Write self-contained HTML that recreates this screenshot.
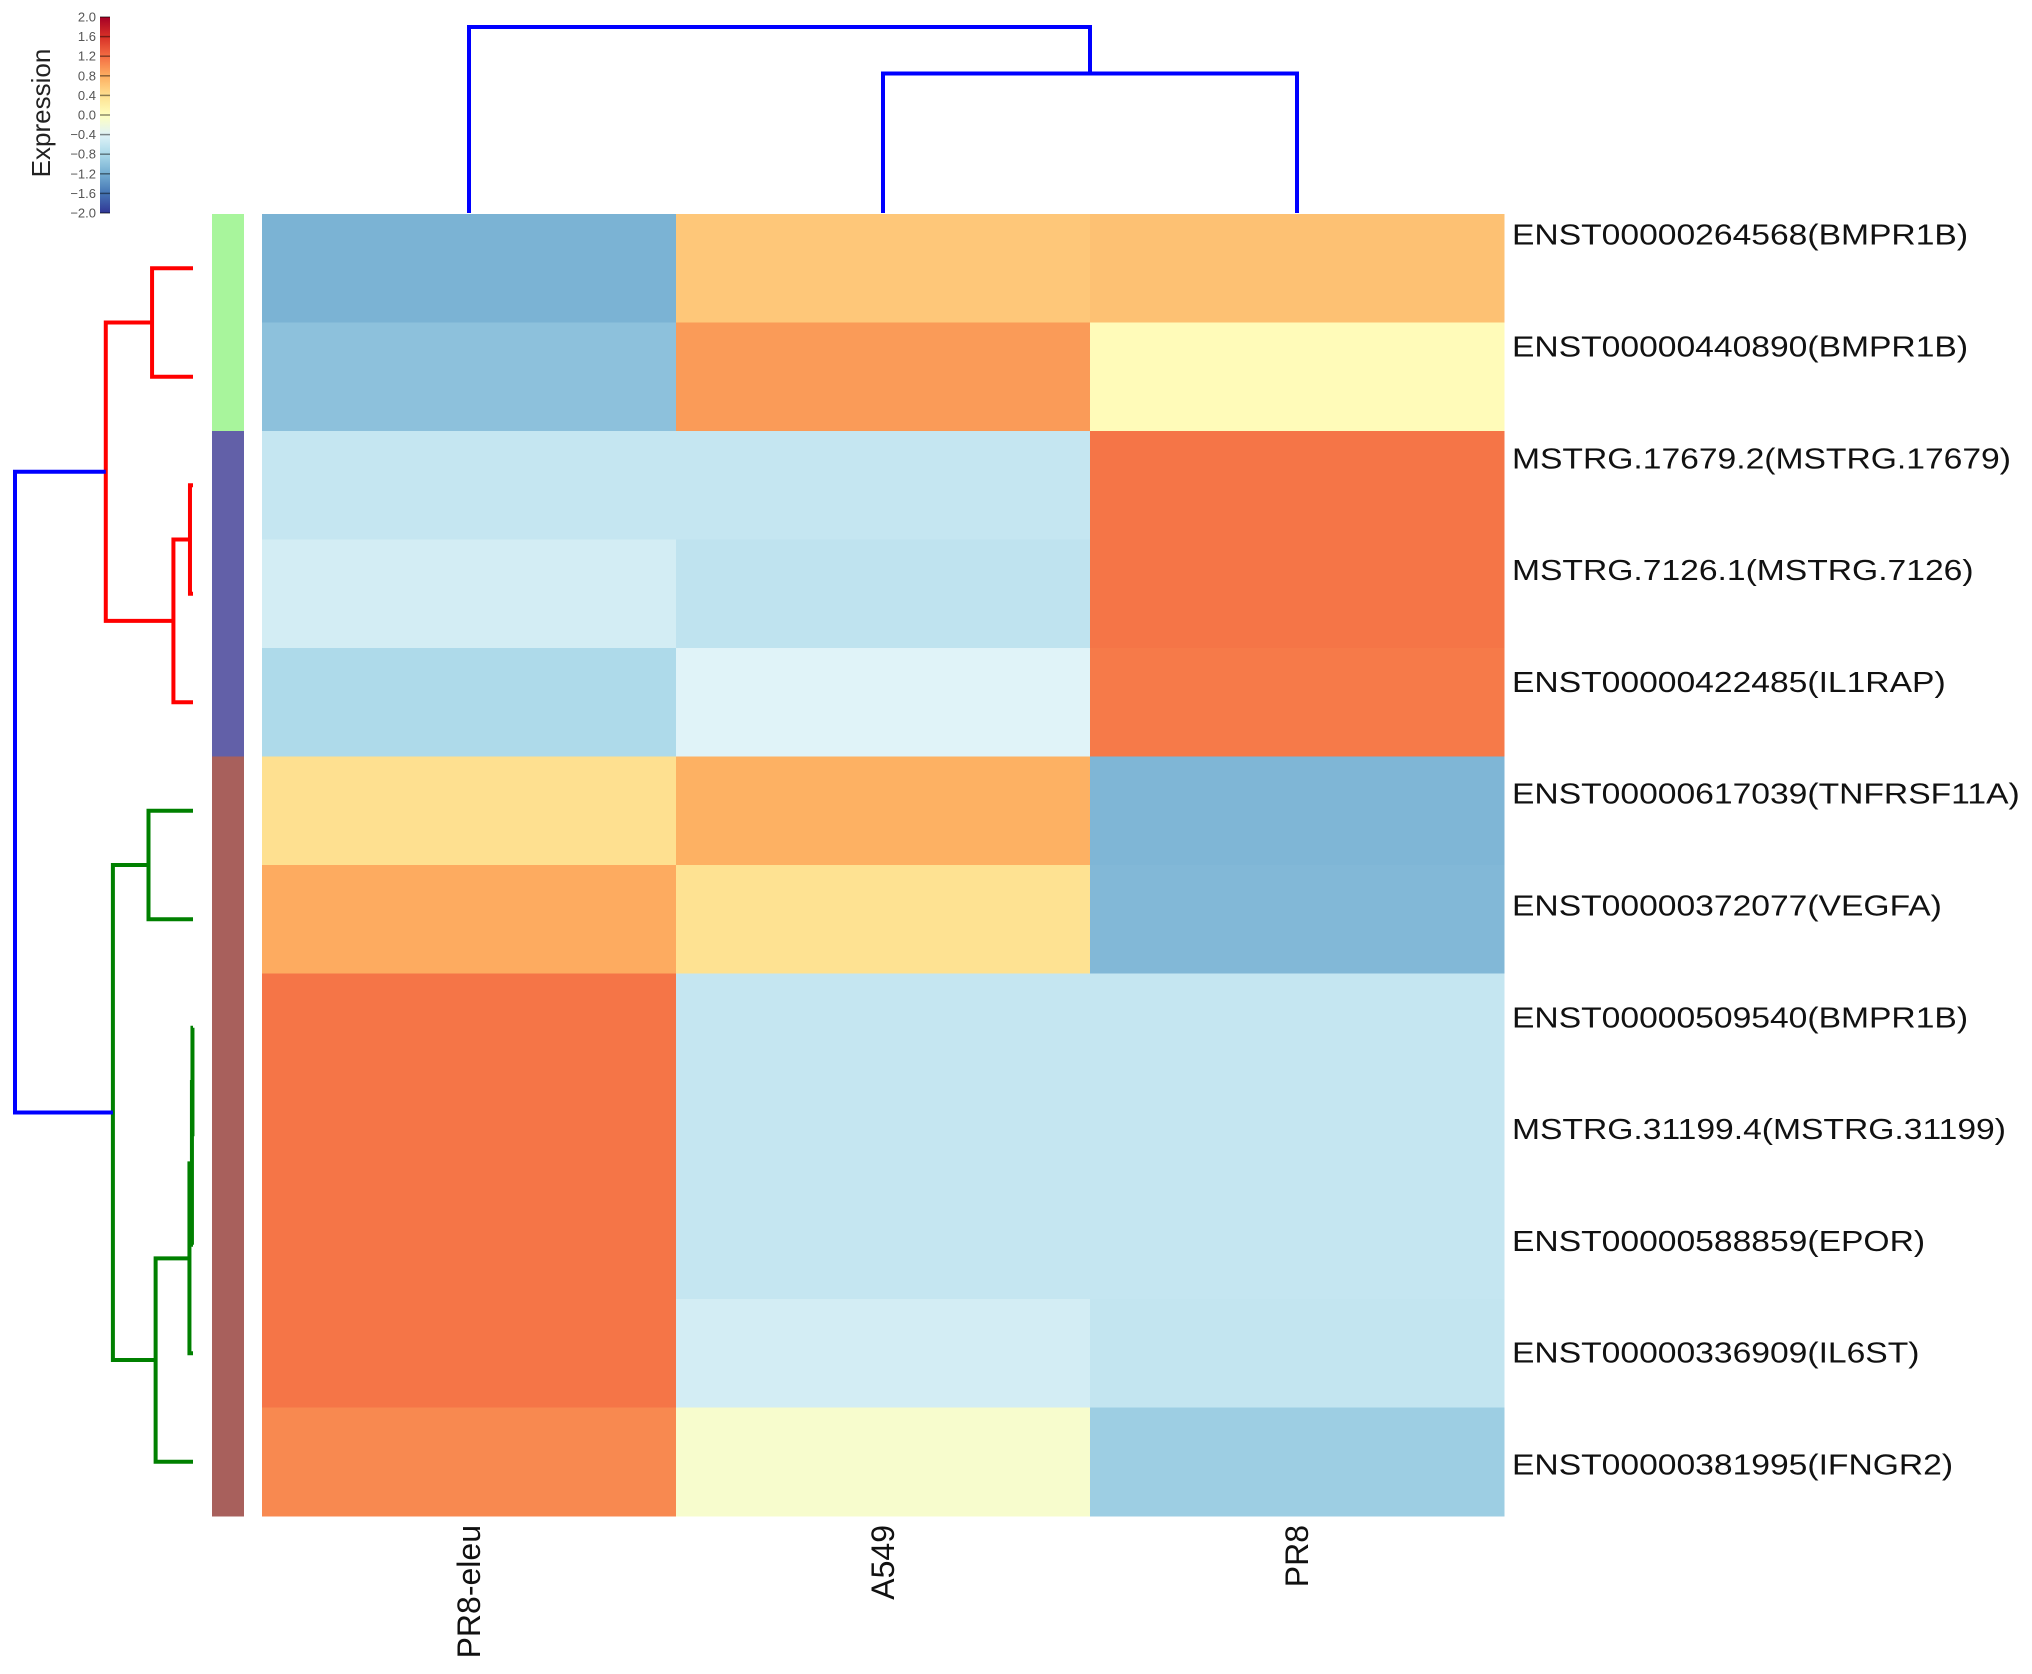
<!DOCTYPE html>
<html><head><meta charset="utf-8"><style>
html,body{margin:0;padding:0;background:#fff;}
svg{display:block;font-family:"Liberation Sans",Arial,sans-serif;}
</style></head><body>
<svg id="chart" width="2032" height="1674" viewBox="0 0 2032 1674" xmlns="http://www.w3.org/2000/svg">
<g id="colorbar"></g>
<g id="coldendro"></g>
<g id="rowdendro"></g>
<g id="sidebar"></g>
<g id="cells"></g>
<g id="rowlabels"></g>
<g id="collabels"></g>
</svg>
<script>
const columns = ["PR8-eleu","A549","PR8"];
const rows = ["ENST00000264568(BMPR1B)","ENST00000440890(BMPR1B)","MSTRG.17679.2(MSTRG.17679)","MSTRG.7126.1(MSTRG.7126)","ENST00000422485(IL1RAP)","ENST00000617039(TNFRSF11A)","ENST00000372077(VEGFA)","ENST00000509540(BMPR1B)","MSTRG.31199.4(MSTRG.31199)","ENST00000588859(EPOR)","ENST00000336909(IL6ST)","ENST00000381995(IFNGR2)"];
const colPR8eleu = [-1.15,-1.02,-0.6,-0.5,-0.78,0.4,0.82,1.15,1.15,1.15,1.15,1.03];
const colA549 = [0.6,0.92,-0.6,-0.65,-0.4,0.78,0.38,-0.6,-0.6,-0.6,-0.5,-0.1];
const colPR8 = [0.65,0.05,1.15,1.15,1.12,-1.12,-1.1,-0.6,-0.6,-0.6,-0.62,-0.9];
const rowCluster = [0,0,1,1,1,2,2,2,2,2,2,2];
const clusterColors = ["#a8f59c","#6260a8","#a8605c"];
// row linkage: [childA, childB, height]; leaves 0..11, new nodes from 12
const rowMerges = [[2,3,0.017],[12,4,0.11],[0,1,0.23],[14,13,0.49],[5,6,0.25],[7,8,0.003],[17,9,0.006],[18,10,0.02],[19,11,0.21],[16,20,0.45],[15,21,1.0]];
const rowMergeColors = ["red","red","red","red","green","green","green","green","green","green","blue"];
const colMerges = [[1,2,0.75],[0,3,1.0]];
const legendTicks = [2.0,1.6,1.2,0.8,0.4,0.0,-0.4,-0.8,-1.2,-1.6,-2.0];

const NS="http://www.w3.org/2000/svg";
const stops=["#313695","#4575b4","#74add1","#abd9e9","#e0f3f8","#ffffbf","#fee090","#fdae61","#f46d43","#d73027","#a50026"];
function hex(h){return [1,3,5].map(i=>parseInt(h.substr(i,2),16));}
function color(v){
  let t=(Math.max(-2,Math.min(2,v))+2)/0.4; let i=Math.min(9,Math.floor(t)); let f=t-i;
  const a=hex(stops[i]),b=hex(stops[i+1]);
  return "rgb("+a.map((c,k)=>Math.round(c+(b[k]-c)*f)).join(",")+")";
}
function mk(tag,attrs,parent){const e=document.createElementNS(NS,tag);for(const k in attrs)e.setAttribute(k,attrs[k]);parent.appendChild(e);return e;}
const X0=262,CW=414,Y0=214,RH=108.5;
const xCol=i=>X0+i*CW, yRow=i=>Y0+i*RH;
const values=[colPR8eleu,colA549,colPR8];

const cells=document.getElementById('cells');
values.forEach((col,c)=>col.forEach((v,r)=>{
  const e=mk('rect',{x:xCol(c),y:yRow(r),width:CW+0.5,height:RH+0.5,fill:color(v)},cells);
  
  
}));

const sb=document.getElementById('sidebar');
rowCluster.forEach((k,r)=>{
  const e=mk('rect',{x:212,y:yRow(r),width:32,height:RH+0.5,fill:clusterColors[k]},sb);
  
  
});

const rl=document.getElementById('rowlabels');
rows.forEach((t,r)=>{
  const e=mk('text',{transform:'translate(1512,'+(235+r*111.8)+') scale(1.16,1)','font-size':29,fill:'#111','dominant-baseline':'central'},rl);
  e.textContent=t;
  
  
});
const cl=document.getElementById('collabels');
columns.forEach((t,c)=>{
  const x=xCol(c)+CW/2;
  const e=mk('text',{transform:'translate('+(x+11)+',1525) rotate(-90)','font-size':32,fill:'#111','text-anchor':'end'},cl);
  e.textContent=t;
  
  
});

// row dendrogram
const rd=document.getElementById('rowdendro');
const hx=h=>193-h*178;
let rpos=rows.map((_,i)=>({y:yRow(i)+RH/2,x:hx(0)}));
rowMerges.forEach((m,i)=>{
  const a=rpos[m[0]],b=rpos[m[1]],x=hx(m[2]);
  const col={red:"#ff0000",green:"#008000",blue:"#0000ff"}[rowMergeColors[i]];
  const e=mk('path',{d:`M${a.x},${a.y}H${x}V${b.y}H${b.x}`,fill:'none',stroke:col,'stroke-width':4},rd);
  
  
  rpos.push({x:x,y:(a.y+b.y)/2});
});
// column dendrogram
const cd=document.getElementById('coldendro');
const hy=h=>213-h*186;
let cpos=columns.map((_,i)=>({x:xCol(i)+CW/2,y:hy(0)}));
colMerges.forEach(m=>{
  const a=cpos[m[0]],b=cpos[m[1]],y=hy(m[2]);
  const e=mk('path',{d:`M${a.x},${a.y}V${y}H${b.x}V${b.y}`,fill:'none',stroke:'#0000ff','stroke-width':4},cd);
  
  
  cpos.push({x:(a.x+b.x)/2,y:y});
});

// color legend
const cb=document.getElementById('colorbar');
const defs=mk('defs',{},cb);
const lg=mk('linearGradient',{id:'lg',x1:0,y1:1,x2:0,y2:0},defs);
stops.forEach((s,i)=>mk('stop',{offset:i/10,'stop-color':s},lg));
const LT=17,LB=213,ly=v=>LB-(v+2)/4*(LB-LT);
const bar=mk('rect',{x:100,y:LT,width:10,height:LB-LT,fill:'url(#lg)'},cb);


legendTicks.forEach(v=>{
  const y=ly(v);
  mk('line',{x1:100,x2:110,y1:y,y2:y,stroke:'rgba(0,0,0,0.45)','stroke-width':1.5},cb);
  const t=mk('text',{x:96,y:y,'font-size':13,fill:'#555','text-anchor':'end','dominant-baseline':'central'},cb);
  t.textContent=(v<0?'\u2212':'')+Math.abs(v).toFixed(1);
  
  
});
const lt=mk('text',{transform:'translate(50,113) rotate(-90)','font-size':26,fill:'#222','text-anchor':'middle'},cb);
lt.textContent='Expression';


</script>
</body></html>
